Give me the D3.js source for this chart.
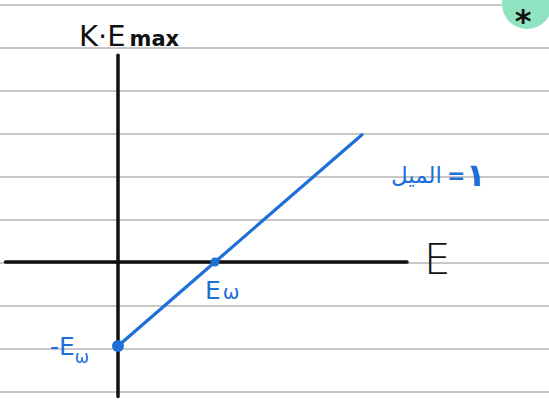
<!DOCTYPE html>
<html>
<head>
<meta charset="utf-8">
<script src="https://cdn.jsdelivr.net/npm/d3@7/dist/d3.min.js"></script>
<style>
  html, body { margin: 0; padding: 0; background: #fff; }
  svg { display: block; }
</style>
</head>
<body>
<svg id="chart" width="549" height="405"></svg>
<script>
// Work function line: K.Emax = E - Ew, with Ew = 1 (slope 1)
const workFunction = 1;
const lineE = [0, 1, 2.515];              // photon energy values along the line
const lineK = lineE.map(e => e - workFunction);
const markedE = [0, 1];                   // points marked on the line
const axisLabels = { y: "K·E", ySub: "max", x: "E" };
const slopeText = ["الميل", "=", "١"];

const W = 549, H = 405;
const svg = d3.select("#chart");

// Scales: one unit of E / K.Emax
const x = d3.scaleLinear().domain([0, 1]).range([118, 215]);
const y = d3.scaleLinear().domain([-1, 0]).range([346, 262]);

// Ruled notebook paper
const rulePitch = 43;
svg.append("g").selectAll("line")
  .data(d3.range(5, H, rulePitch))
  .join("line")
  .attr("x1", 0).attr("x2", W)
  .attr("y1", d => d).attr("y2", d => d)
  .attr("stroke", "#b4b4b4").attr("stroke-width", 1.6);

// Axes
svg.append("line")
  .attr("x1", x(-1.16)).attr("x2", x(2.98))
  .attr("y1", y(0)).attr("y2", y(0))
  .attr("stroke", "#111").attr("stroke-width", 3.5).attr("stroke-linecap", "round");
svg.append("line")
  .attr("x1", x(0)).attr("x2", x(0))
  .attr("y1", y(2.46)).attr("y2", y(-1.6))
  .attr("stroke", "#111").attr("stroke-width", 3.5).attr("stroke-linecap", "round");

// Axis titles
const yt = svg.append("text")
  .attr("x", 79).attr("y", 46)
  .attr("font-family", "DejaVu Sans, sans-serif")
  .attr("fill", "#111");
yt.append("tspan").attr("font-size", 29).text(axisLabels.y);
yt.append("tspan").attr("font-size", 21).attr("font-weight", "bold").attr("dx", 4).text(axisLabels.ySub);

svg.append("text")
  .attr("x", 424).attr("y", 274)
  .attr("font-family", "DejaVu Sans, sans-serif")
  .attr("font-size", 42).attr("font-weight", 300)
  .attr("fill", "#111")
  .text(axisLabels.x);

// The line
const blue = "#1f6fd8";
svg.append("path")
  .datum(lineE.map((e, i) => [e, lineK[i]]))
  .attr("d", d3.line().x(d => x(d[0])).y(d => y(d[1])))
  .attr("fill", "none").attr("stroke", blue)
  .attr("stroke-width", 3.2).attr("stroke-linecap", "round");

svg.append("g").selectAll("circle")
  .data(markedE)
  .join("circle")
  .attr("cx", d => x(d)).attr("cy", d => y(d - workFunction))
  .attr("r", d => d === 0 ? 6 : 4.5)
  .attr("fill", blue);

// Intercept labels
const ew = svg.append("text")
  .attr("x", x(workFunction) - 10).attr("y", 299)
  .attr("font-family", "DejaVu Sans, sans-serif")
  .attr("fill", blue);
ew.append("tspan").attr("font-size", 25).text("E");
ew.append("tspan").attr("font-size", 20).attr("dx", 2).text("ω");

const mew = svg.append("text")
  .attr("x", 50).attr("y", 355)
  .attr("font-family", "DejaVu Sans, sans-serif")
  .attr("fill", blue);
mew.append("tspan").attr("font-size", 25).text("-E");
mew.append("tspan").attr("font-size", 17).attr("dy", 8).text("ω");

// Slope note: word, equals sign, digit
const slopeX = [442, 447, 466];
const slopeAnchor = ["end", "start", "start"];
const slopeSize = [23, 22, 32];
svg.append("g").selectAll("text")
  .data(slopeText)
  .join("text")
  .attr("x", (d, i) => slopeX[i]).attr("y", (d, i) => i === 2 ? 186 : 183)
  .attr("text-anchor", (d, i) => slopeAnchor[i])
  .attr("font-family", "DejaVu Sans, sans-serif")
  .attr("font-size", (d, i) => slopeSize[i])
  .attr("font-weight", (d, i) => i === 0 ? "normal" : "bold")
  .attr("fill", blue)
  .text(d => d);

// Corner badge
svg.append("circle")
  .attr("cx", 527).attr("cy", 4).attr("r", 25)
  .attr("fill", "#8fe3c0");
svg.append("text")
  .attr("x", 523).attr("y", 32)
  .attr("text-anchor", "middle")
  .attr("font-family", "DejaVu Sans, sans-serif")
  .attr("font-size", 32).attr("font-weight", "bold")
  .attr("fill", "#111")
  .text("*");
</script>
</body>
</html>
